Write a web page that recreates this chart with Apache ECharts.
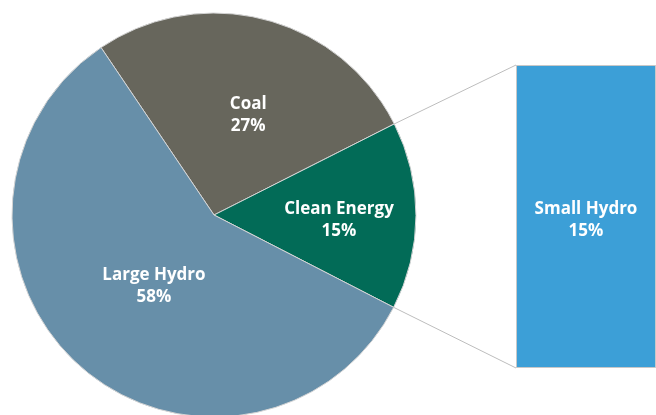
<!DOCTYPE html>
<html><head><meta charset="utf-8">
<script src="https://cdn.jsdelivr.net/npm/echarts@6/dist/echarts.min.js"></script>
<style>html,body{margin:0;padding:0;background:#fff}#c{width:656px;height:415px}</style>
</head><body><div id="c"></div>
<script>
// Data
var pieNames = ['Coal', 'Clean Energy', 'Large Hydro'];
var pieValues = [27, 15, 58];
var barNames = ['Small Hydro'];
var barValues = [15];

var colors = {'Coal':'#67665c','Clean Energy':'#026b57','Large Hydro':'#678fa9','Small Hydro':'#3c9fd7'};
var labelOffsets = {'Coal':[8,1],'Clean Energy':[21,5],'Large Hydro':[9,-7]};

var center = [214, 215], radius = 202, startAngle = 124;
var chart = echarts.init(document.getElementById('c'));
var font = '"Open Sans", sans-serif';

var pieData = pieNames.map(function(n, i){
  return {name:n, value:pieValues[i], itemStyle:{color:colors[n]}, label:{offset:labelOffsets[n]}};
});

var option = {
  animation:false,
  grid:{left:516, top:65, height:303, width:170, containLabel:false},
  xAxis:{type:'category', data:barNames, show:false},
  yAxis:{type:'value', min:0, max:barValues[0], show:false},
  series:[
    {type:'pie', center:center, radius:radius, startAngle:startAngle, clockwise:true,
     data:pieData,
     itemStyle:{borderColor:'#d4d4d4', borderWidth:1},
     label:{position:'inside', formatter:'{b}\n{d}%', color:'#fff', fontFamily:font, fontWeight:'bold', fontSize:17, lineHeight:22, align:'center'},
     labelLine:{show:false}, emphasis:{disabled:true}},
    {type:'bar', data:barValues.map(function(v,i){return {value:v, name:barNames[i]};}), barWidth:'100%',
     itemStyle:{color:colors['Small Hydro'], borderColor:'#c8c8c8', borderWidth:1},
     label:{show:true, position:'inside', formatter:function(p){return p.name+'\n'+p.value+'%';}, color:'#fff', fontFamily:font, fontWeight:'bold', fontSize:17, lineHeight:22, align:'center', offset:[0,4]},
     emphasis:{disabled:true}}
  ]
};
chart.setOption(option);

// connector lines from the Clean Energy slice edges to the bar corners
var total = pieValues.reduce(function(a,b){return a+b;},0);
var before = 0;
for (var i=0;i<pieNames.indexOf('Clean Energy');i++) before += pieValues[i];
var a1 = (startAngle - before/total*360) * Math.PI/180;
var a2 = (startAngle - (before+pieValues[pieNames.indexOf('Clean Energy')])/total*360) * Math.PI/180;
var p1 = [center[0]+radius*Math.cos(a1), center[1]-radius*Math.sin(a1)];
var p2 = [center[0]+radius*Math.cos(a2), center[1]-radius*Math.sin(a2)];
var gridRect = chart.getModel().getComponent('grid',0).coordinateSystem.getRect();
var topPt = chart.convertToPixel({gridIndex:0}, [0, barValues[0]]);
var botPt = chart.convertToPixel({gridIndex:0}, [0, 0]);
var bx = gridRect.x;
chart.setOption({graphic:[
  {type:'line', shape:{x1:p1[0],y1:p1[1],x2:bx,y2:topPt[1]}, style:{stroke:'#bdbdbd', lineWidth:1}, z:10},
  {type:'line', shape:{x1:p2[0],y1:p2[1],x2:bx,y2:botPt[1]}, style:{stroke:'#bdbdbd', lineWidth:1}, z:10}
]});
</script></body></html>
